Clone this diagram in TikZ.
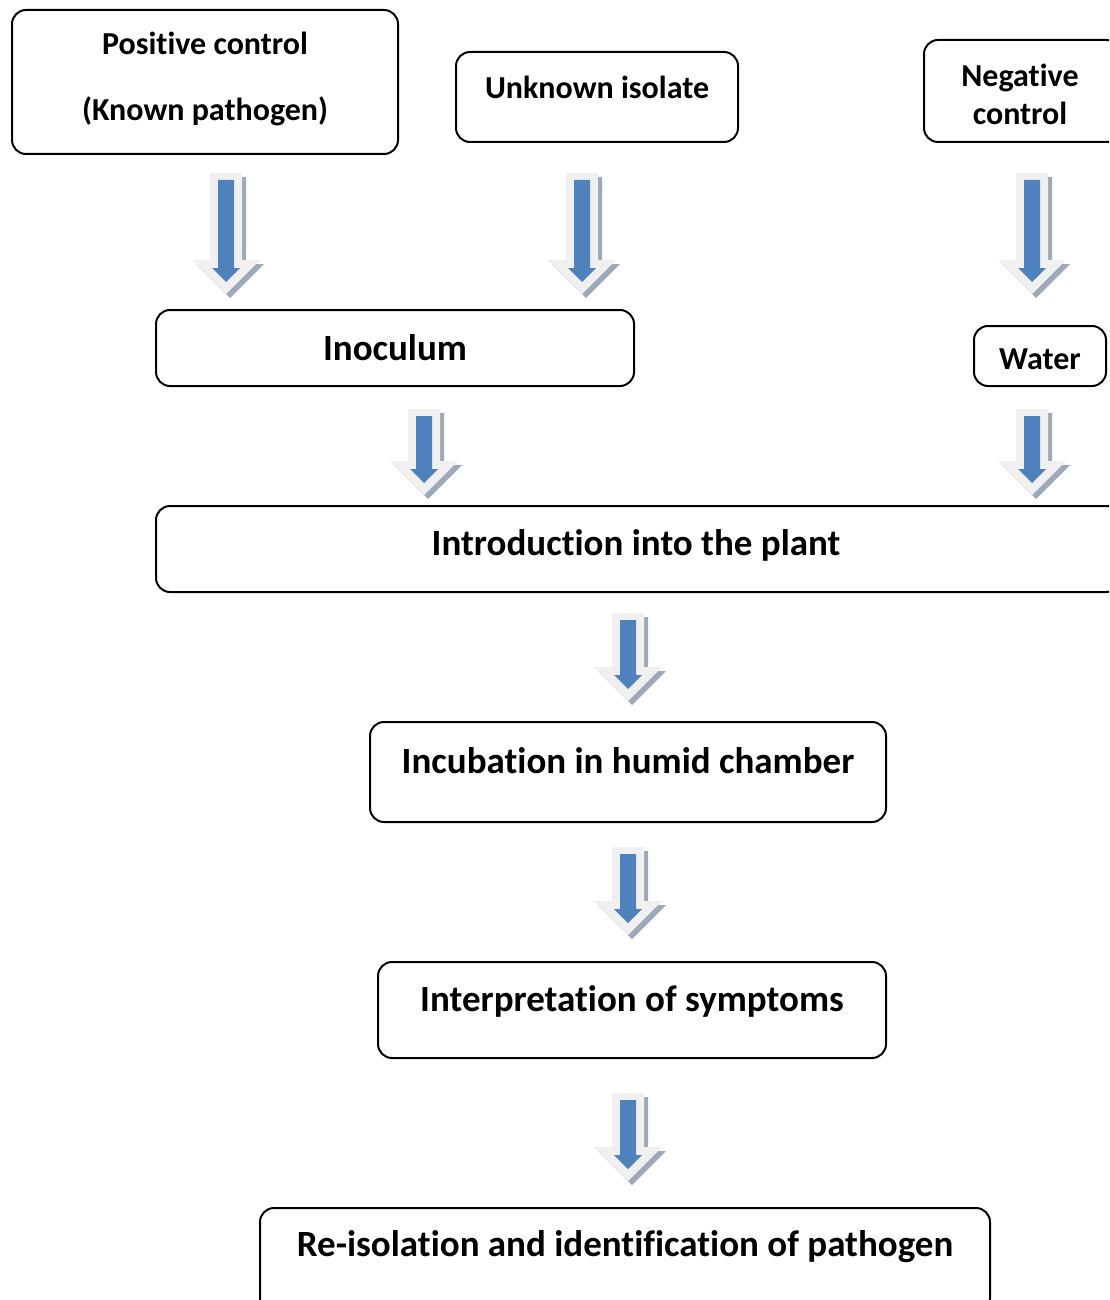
\documentclass[tikz,border=0pt]{standalone}
\usepackage{fontspec}
\setmainfont{Carlito}[Ligatures=NoCommon]
\usepackage{xcolor}
\usepackage{tikz}
\usetikzlibrary{calc,positioning}

\definecolor{arrblue}{HTML}{4F81BD}
\definecolor{arrlight}{HTML}{F0F0F0}
\definecolor{arrshade}{HTML}{9DA8B9}

\begin{document}
\begin{tikzpicture}[x=0.5pt, y=-0.5pt,
  stepbox/.style={draw, line width=1pt, rounded corners=7pt, inner sep=0pt},
  smalltxt/.style={font=\fontsize{16}{19}\selectfont\bfseries, align=center},
  bigtxt/.style={font=\fontsize{18.5}{22}\selectfont\bfseries, align=center},
  pics/blkarrow/.style={code={
    % drop shadow, pale body, blue core
    \fill[arrshade] (-12,4) -- (20,4) -- ({20},{#1-30}) -- ({38},{#1-30}) -- ({4},{#1+4}) -- ({-30},{#1-30}) -- ({-12},{#1-30}) -- cycle;
    \fill[arrlight] (-16,0) -- (16,0) -- ({16},{#1-34}) -- ({34},{#1-34}) -- ({0},{#1}) -- ({-34},{#1-34}) -- ({-16},{#1-34}) -- cycle;
    \fill[arrblue] (-8,7) -- (8,7) -- ({8},{#1-26}) -- ({14},{#1-26}) -- ({0},{#1-12}) -- ({-14},{#1-26}) -- ({-8},{#1-26}) -- cycle;
  }}]
\useasboundingbox (0,0) rectangle (1109,1300);
\clip (0,0) rectangle (1109,1300);

% top row: sources
\node[stepbox, minimum width=193pt, minimum height=72pt] (pos) at (205,82) {};
\node[smalltxt, font=\fontsize{16}{33}\selectfont\bfseries] (postxt) at (205,79) {Positive control\\(Known pathogen)};
\node[stepbox, minimum width=141pt, minimum height=45pt] (unk) at (597,97) {};
\node[smalltxt] (unktxt) at (597,87) {Unknown isolate};
\node[stepbox, minimum width=98pt, minimum height=51pt] (neg) at (1022,91) {};
\node[smalltxt] (negtxt) at (1020,94) {Negative\\control};

% second row
\node[stepbox, minimum width=239pt, minimum height=38pt] (inoc) at (395,348) {};
\node[bigtxt] (inoctxt) at (395,348) {Inoculum};
\node[stepbox, minimum width=66pt, minimum height=30pt] (water) at (1040,356) {};
\node[smalltxt] (watertxt) at (1040,359) {Water};

% main chain
\node[stepbox, minimum width=482pt, minimum height=43pt] (intro) at (638,549) {};
\node[bigtxt] (introtxt) at (636,545) {Introduction into the plant};
\node[stepbox, minimum width=258pt, minimum height=50pt] (incub) at (628,772) {};
\node[bigtxt] (incubtxt) at (628,761) {Incubation in humid chamber};
\node[stepbox, minimum width=254pt, minimum height=48pt] (interp) at (632,1010) {};
\node[bigtxt] (interptxt) at (632,1001) {Interpretation of symptoms};
\node[stepbox, minimum width=365pt, minimum height=52pt] (reiso) at (625,1260) {};
\node[bigtxt] (reisotxt) at (625,1247) {Re-isolation and identification of pathogen};

% block arrows below each box
\foreach \n/\dx/\dy/\h in {pos/21/18/121, unk/-15/30/121, neg/10/30/121,
    inoc/29/22/86, water/-8/22/86, intro/-10/20/88, incub/0/24/88, interp/-4/34/88}{
  \pic at ($(\n.south)+(\dx,\dy)$) {blkarrow=\h};
}
\end{tikzpicture}
\end{document}
